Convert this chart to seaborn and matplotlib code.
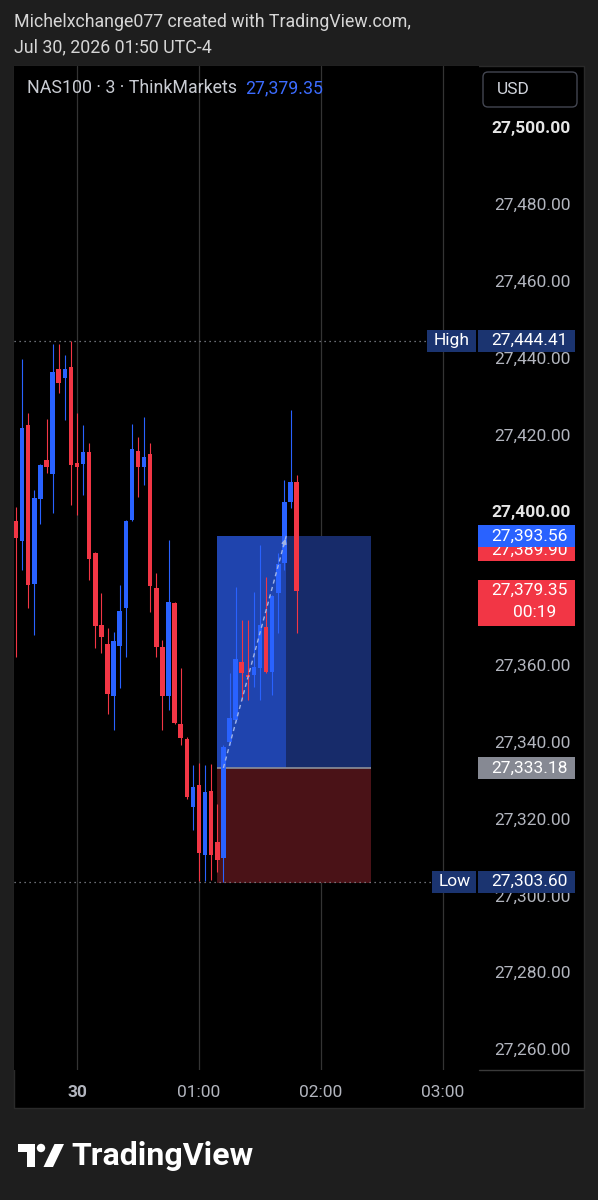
import numpy as np
import pandas as pd
import matplotlib
matplotlib.use("Agg")
import matplotlib.pyplot as plt
import seaborn as sns
from matplotlib import transforms
from matplotlib.patches import Rectangle, FancyBboxPatch, Polygon, Circle
from matplotlib.lines import Line2D

# --- data (NAS100, 3 min, ThinkMarkets) ---
bar_index = list(range(-10, 37))  # bars relative to 00:00 (3 min each)
opens = [27397.5, 27392.3, 27422.4, 27381.1, 27403.2, 27413.3, 27409.7, 27437.0, 27434.7, 27437.5,
         27412.5, 27412.3, 27415.4, 27389.1, 27370.4, 27365.4, 27351.9, 27364.9, 27374.8, 27397.7,
         27415.7, 27411.6, 27414.9, 27380.0, 27364.7, 27351.8, 27376.1, 27344.6, 27340.7, 27323.1,
         27328.7, 27310.5, 27327.3, 27313.9, 27309.7, 27339.9, 27345.7, 27360.8, 27357.4, 27357.4,
         27359.2, 27369.9, 27358.2, 27378.7, 27386.5, 27402.4, 27407.6]
highs = [27401.1, 27439.6, 27425.6, 27405.5, 27412.3, 27424.0, 27443.6, 27443.6, 27440.7, 27444.41,
         27425.6, 27422.4, 27417.7, 27389.5, 27378.7, 27369.6, 27368.6, 27380.8, 27397.7, 27422.7,
         27419.3, 27424.5, 27417.8, 27383.9, 27366.5, 27392.5, 27376.3, 27359.2, 27341.2, 27333.9,
         27334.5, 27333.9, 27334.2, 27323.8, 27339.2, 27357.9, 27380.3, 27371.7, 27371.7, 27379.0,
         27391.2, 27382.9, 27378.2, 27389.1, 27408.1, 27426.3, 27409.4]
lows = [27362.0, 27384.7, 27374.8, 27367.8, 27396.7, 27409.9, 27399.6, 27430.8, 27423.7, 27401.6,
        27399.0, 27404.2, 27382.1, 27364.4, 27363.1, 27347.2, 27343.0, 27354.0, 27362.1, 27397.5,
        27403.7, 27406.8, 27373.8, 27362.1, 27343.0, 27348.2, 27344.5, 27339.1, 27325.2, 27317.0,
        27303.8, 27303.8, 27304.0, 27306.1, 27303.6, 27339.1, 27345.1, 27350.9, 27350.9, 27354.2,
        27350.9, 27357.8, 27352.2, 27368.3, 27384.7, 27400.8, 27368.3]
closes = [27393.0, 27421.7, 27380.8, 27403.5, 27412.0, 27411.5, 27436.3, 27433.4, 27437.0, 27412.0,
          27411.5, 27415.4, 27387.6, 27370.1, 27367.3, 27352.4, 27366.2, 27374.0, 27397.5, 27416.2,
          27411.5, 27414.2, 27380.6, 27364.7, 27351.9, 27376.4, 27344.9, 27341.0, 27325.6, 27328.3,
          27311.0, 27327.0, 27310.5, 27309.2, 27338.7, 27346.2, 27361.5, 27357.9, 27356.9, 27359.4,
          27370.4, 27358.2, 27377.9, 27386.3, 27402.4, 27407.6, 27379.35]

price_ticks = [27260, 27280, 27300, 27320, 27340, 27360, 27380, 27400, 27420, 27440, 27460, 27480, 27500]
bold_ticks = [27400, 27500]
covered_ticks = [27380]  # fully hidden behind the last-price tag
time_ticks = [0, 20, 40, 60]
time_labels = ["30", "01:00", "02:00", "03:00"]

# long position tool
entry_price = 27333.18
target_price = 27393.56
stop_price = 27303.20
box_start, box_hit, box_end = 23, 34.3, 48.2
path_start = 24

session_high = 27444.41
session_low = 27303.60
last_price = 27379.35
hidden_tag = 27389.90
countdown = "00:19"

UP = "#2962ff"
DOWN = "#f23645"
W, H = 598, 1200


def fx(px):
    return px / W


def fy(py):
    return 1 - py / H


sns.set_theme(style="dark")
plt.rcParams['font.family'] = ['Roboto', 'DejaVu Sans']

fig = plt.figure(figsize=(W / 100, H / 100), dpi=100, facecolor="#1e1e1e")

# chart panel
fig.add_artist(Rectangle((fx(14), fy(1108)), fx(584) - fx(14), fy(66) - fy(1108),
                         transform=fig.transFigure, facecolor="black", edgecolor="#2a2a2a",
                         lw=1, zorder=-1))

ax = fig.add_axes([fx(14), fy(1070), fx(479) - fx(14), fy(66) - fy(1070)])
ax.set_facecolor("black")

# scale: 3.842 px per point, 6.1 px per bar
ppu = 3.842
ymax = 27500 + (127 - 66) / ppu
ymin = 27500 - (1070 - 127) / ppu
ax.set_ylim(ymin, ymax)
ax.set_xlim((14 - 77) / 6.1, (479 - 77) / 6.1)

df = pd.DataFrame({"k": bar_index, "o": opens, "h": highs, "l": lows, "c": closes})
df["color"] = np.where(df["c"] >= df["o"], UP, DOWN)
df["body"] = (df["c"] - df["o"]).abs().clip(lower=0.35)
df["bottom"] = np.minimum(df["o"], df["c"])

# position box
ax.add_patch(Rectangle((box_start, entry_price), box_hit - box_start, target_price - entry_price,
                       facecolor="#1f44ae", lw=0, zorder=2))
ax.add_patch(Rectangle((box_hit, entry_price), box_end - box_hit, target_price - entry_price,
                       facecolor="#172b6a", lw=0, zorder=2))
ax.add_patch(Rectangle((box_start, stop_price), box_end - box_start, entry_price - stop_price,
                       facecolor="#4a1217", lw=0, zorder=2))
ax.hlines(entry_price, box_start, box_end, color="#8d9099", lw=1.2, zorder=2.5)

# candles
ax.vlines(df["k"], df["l"], df["h"], colors=df["color"], lw=0.8, zorder=3)
ax.bar(df["k"], df["body"], bottom=df["bottom"], width=0.74, color=df["color"], lw=0, zorder=4)

# dashed trade path
path = pd.DataFrame({"k": [path_start, box_hit], "p": [entry_price, target_price]})
sns.lineplot(data=path, x="k", y="p", ax=ax, color="#9fb3e6", lw=1.0, linestyle=(0, (3, 2.5)),
             zorder=5, legend=False)
ax.annotate("", xy=(box_hit, target_price), xytext=(box_hit - 0.6, target_price - 3.5),
            arrowprops=dict(arrowstyle="-|>", color="#9fb3e6", lw=1.0, mutation_scale=7), zorder=5)

# session high / low dotted lines
for lvl in [session_high, session_low]:
    ax.axhline(lvl, color="#8d9099", lw=0.9, linestyle=(0, (1, 3)), zorder=2)

# axes styling
ax.grid(False)
ax.grid(axis="x", color="#343434", lw=0.9)
ax.set_axisbelow(True)
for s in ax.spines.values():
    s.set_visible(False)
ax.set_xlabel("")
ax.set_ylabel("")

ax.yaxis.tick_right()
ax.set_yticks(price_ticks)
ax.set_yticklabels(["" if v in covered_ticks else f"{v:,.2f}" for v in price_ticks])
ax.tick_params(axis="y", length=0, pad=66, labelsize=12.5, labelcolor="#b2b5be")
for lab, v in zip(ax.get_yticklabels(), price_ticks):
    lab.set_horizontalalignment("right")
    if v in bold_ticks:
        lab.set_fontweight("bold")
        lab.set_color("#e6e6e6")

ax.set_xticks(time_ticks)
ax.set_xticklabels(time_labels)
ax.tick_params(axis="x", length=0, pad=11, labelsize=12.5, labelcolor="#b2b5be")
ax.get_xticklabels()[0].set_fontweight("bold")

# separator under price scale
fig.add_artist(Line2D([fx(479), fx(584)], [fy(1070), fy(1070)], transform=fig.transFigure,
                      color="#3a3a3a", lw=1))

# price tags on the right scale
tag_tr = transforms.blended_transform_factory(fig.transFigure, ax.transData)


def tag(value, text, fc, x0=478, x1=575, up_px=11, down_px=11, z=6, tx=568, color="white"):
    fig.add_artist(Rectangle((fx(x0), value - down_px / ppu), fx(x1) - fx(x0), (up_px + down_px) / ppu,
                             transform=tag_tr, facecolor=fc, lw=0, zorder=z))
    fig.text(fx(tx), value, text, transform=tag_tr, ha="right", va="center", color=color,
             fontsize=12.5, zorder=z + 0.5)


tag(hidden_tag, f"{hidden_tag:,.2f}", DOWN, z=6)
tag(target_price, f"{target_price:,.2f}", UP, z=8)
tag(last_price, f"{last_price:,.2f}", DOWN, up_px=11, down_px=35, z=6)
fig.text(fx(513), last_price - 22 / ppu, countdown, transform=tag_tr, ha="left", va="center",
         color="white", fontsize=12.5, zorder=7)
tag(entry_price, f"{entry_price:,.2f}", "#868993", z=6)

tag(session_high, f"{session_high:,.2f}", "#1b3470", z=6)
tag(session_high, "High", "#1b3470", x0=427, x1=476, tx=470, z=6)
tag(session_low, f"{session_low:,.2f}", "#1b3470", z=6)
tag(session_low, "Low", "#1b3470", x0=432, x1=476, tx=471, z=6)

# header
fig.text(fx(14), fy(22), "Michelxchange077 created with TradingView.com,", color="#d6d6d6",
         fontsize=12.8, va="center")
fig.text(fx(14), fy(47), "Jul 30, 2026 01:50 UTC-4", color="#d6d6d6", fontsize=12.8, va="center")

# legend line
fig.text(fx(27), fy(88), "NAS100 · 3 · ThinkMarkets", color="#c9ccd3", fontsize=12.8, va="center")
fig.text(fx(245), fy(88), f"{last_price:,.2f}", color="#3c6cff", fontsize=12.8, va="center")

# USD button
inch = fig.dpi_scale_trans
fig.add_artist(FancyBboxPatch((4.83, (H - 107) / 100), 0.94, 0.35, transform=inch,
                              boxstyle="round,pad=0,rounding_size=0.05", facecolor="black",
                              edgecolor="#434651", lw=1))
fig.text(fx(497), fy(90), "USD", color="#d1d4dc", fontsize=12.5, va="center")

# TradingView logo
fig.add_artist(Polygon([(0.18, (H - 1144) / 100), (0.345, (H - 1144) / 100), (0.345, (H - 1167) / 100),
                        (0.27, (H - 1167) / 100), (0.27, (H - 1152) / 100), (0.18, (H - 1152) / 100)],
                       closed=True, transform=inch, facecolor="white", lw=0))
fig.add_artist(Circle((0.41, (H - 1148) / 100), 0.042, transform=inch, facecolor="white", lw=0))
fig.add_artist(Polygon([(0.545, (H - 1144) / 100), (0.64, (H - 1144) / 100), (0.53, (H - 1167) / 100),
                        (0.435, (H - 1167) / 100)],
                       closed=True, transform=inch, facecolor="white", lw=0))
fig.text(fx(71), fy(1156), "TradingView", color="white", fontsize=23, fontweight="bold", va="center")

fig.savefig("out.png", dpi=100, facecolor=fig.get_facecolor())
